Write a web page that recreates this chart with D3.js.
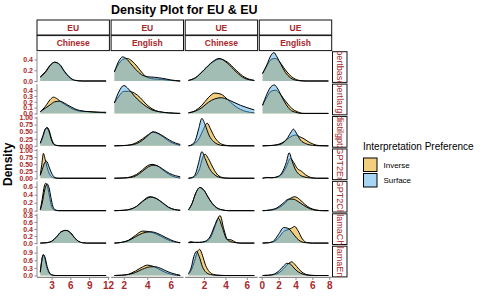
<!DOCTYPE html>
<html>
<head>
<meta charset="UTF-8">
<script src="https://d3js.org/d3.v7.min.js"></script>
<style>
  body { margin: 0; background: #fff; }
  svg { font-family: "Liberation Sans", Arial, sans-serif; display: block; }
</style>
</head>
<body>
<div id="chart"></div>
<script>
const title = "Density Plot for EU & EU";
const orders = ["EU", "EU", "UE", "UE"];
const languages = ["Chinese", "English", "Chinese", "English"];
const models = ["bertbase", "bertlarge", "distilgpt2", "GPT2English", "GPT2Chinese", "llamaChinese", "llamaEnglish"];
const prefs = ["Inverse", "Surface"];

// x data range per column, y max per row
const colRanges = [[1.2, 11.7], [1.2, 6.8], [0.55, 6.7], [0.1, 7.9]];
const colTicks = [[3, 6, 9, 12], [2, 4, 6], [2, 4, 6], [0, 2, 4, 6, 8]];
const rowMax = [0.52, 0.48, 0.986, 0.986, 0.70, 0.79, 1.1];
const rowTicks = [
  [0, 0.2, 0.4], [0, 0.1, 0.2, 0.3, 0.4], [0, 0.25, 0.5, 0.75, 1], [0, 0.25, 0.5, 0.75, 1],
  [0, 0.2, 0.4, 0.6], [0, 0.2, 0.4, 0.6, 0.8], [0, 0.3, 0.6, 0.9]
];
const rowTickFmt = [".1f", ".1f", ".2f", ".2f", ".1f", ".1f", ".1f"];

// density curves [x, density], rows = models, cols = order/language
const inverse = [
  [
    [[1.2,0.08],[2,0.17],[2.8,0.3],[3.5,0.35],[4.3,0.3],[5,0.18],[5.8,0.07],[6.7,0.01],[8,0],[11.7,0]],
    [[1.2,0.17],[1.6,0.33],[2.0,0.41],[2.3,0.42],[2.7,0.37],[3.1,0.28],[3.5,0.17],[3.9,0.08],[4.5,0.04],[5.2,0.03],[6.0,0.01],[6.8,0]],
    [[0.55,0.01],[1.2,0.06],[2,0.2],[2.8,0.35],[3.5,0.41],[4.2,0.35],[5,0.2],[5.8,0.07],[6.7,0.01]],
    [[0.1,0.14],[0.6,0.28],[1.1,0.4],[1.6,0.42],[2.1,0.36],[2.6,0.25],[3.2,0.13],[3.8,0.05],[4.5,0.01],[5.5,0],[7.9,0]]
  ],
  [
    [[1.2,0.03],[2,0.12],[2.8,0.24],[3.3,0.28],[3.9,0.25],[4.6,0.19],[5.5,0.13],[6.5,0.07],[7.5,0.04],[9,0.03],[10.5,0.02],[11.7,0.01]],
    [[1.2,0.18],[1.6,0.3],[2.0,0.38],[2.4,0.38],[2.9,0.35],[3.4,0.27],[3.9,0.16],[4.4,0.08],[5.0,0.03],[5.8,0.01],[6.8,0]],
    [[0.55,0.01],[1.2,0.05],[1.8,0.14],[2.4,0.27],[3.0,0.35],[3.6,0.33],[4.2,0.24],[4.8,0.14],[5.4,0.07],[6.0,0.03],[6.7,0.01]],
    [[0.1,0.14],[0.6,0.28],[1.1,0.38],[1.6,0.4],[2.1,0.35],[2.6,0.25],[3.1,0.16],[3.6,0.08],[4.2,0.03],[5,0],[7.9,0]]
  ],
  [
    [[1.2,0.08],[1.6,0.3],[2.0,0.58],[2.3,0.65],[2.6,0.55],[3.0,0.25],[3.4,0.06],[3.9,0.01],[4.5,0],[11.7,0]],
    [[1.2,0],[2.0,0.01],[2.6,0.04],[3.1,0.12],[3.6,0.25],[4.1,0.4],[4.5,0.48],[4.9,0.43],[5.4,0.3],[5.9,0.15],[6.4,0.06],[6.8,0.02]],
    [[0.55,0],[0.9,0.03],[1.2,0.1],[1.6,0.3],[1.9,0.55],[2.3,0.8],[2.6,0.6],[3.0,0.3],[3.4,0.12],[3.9,0.03],[4.5,0],[6.7,0]],
    [[0.1,0],[1,0.01],[1.8,0.04],[2.5,0.12],[3.1,0.25],[3.6,0.35],[4.0,0.38],[4.5,0.32],[5.0,0.25],[5.5,0.15],[6.1,0.06],[6.8,0.01],[7.9,0]]
  ],
  [
    [[1.2,0.12],[1.45,0.5],[1.7,0.88],[2.0,0.65],[2.4,0.3],[2.8,0.1],[3.3,0.02],[4,0],[11.7,0]],
    [[1.2,0],[2,0.01],[2.6,0.05],[3.1,0.14],[3.6,0.3],[4.0,0.44],[4.4,0.49],[4.8,0.45],[5.3,0.3],[5.8,0.15],[6.3,0.05],[6.8,0.01]],
    [[0.55,0],[0.9,0.02],[1.2,0.08],[1.6,0.35],[1.85,0.7],[2.1,0.85],[2.4,0.7],[2.8,0.4],[3.2,0.15],[3.6,0.04],[4.2,0],[6.7,0]],
    [[0.1,0],[0.6,0.02],[1.2,0.02],[1.8,0.04],[2.4,0.15],[2.9,0.4],[3.4,0.7],[3.8,0.55],[4.2,0.35],[4.7,0.25],[5.2,0.12],[5.8,0.03],[6.5,0],[7.9,0]]
  ],
  [
    [[1.2,0.03],[1.5,0.28],[1.85,0.62],[2.1,0.69],[2.4,0.57],[2.7,0.33],[3.0,0.11],[3.4,0.02],[4,0],[11.7,0]],
    [[1.2,0],[2,0.01],[2.6,0.04],[3.1,0.11],[3.6,0.24],[4.2,0.35],[4.8,0.3],[5.3,0.19],[5.8,0.08],[6.3,0.03],[6.8,0.01]],
    [[0.55,0.02],[0.9,0.19],[1.2,0.42],[1.6,0.58],[2.0,0.51],[2.4,0.33],[2.8,0.17],[3.2,0.07],[3.7,0.02],[4.3,0],[6.7,0]],
    [[0.1,0],[1,0.01],[1.8,0.05],[2.5,0.14],[3.2,0.28],[3.9,0.35],[4.5,0.28],[5.1,0.16],[5.7,0.07],[6.4,0.02],[7.2,0],[7.9,0]]
  ],
  [
    [[1.2,0],[2.2,0.01],[3.0,0.05],[3.8,0.17],[4.5,0.31],[5.3,0.36],[6.0,0.3],[6.7,0.15],[7.3,0.05],[7.9,0.01],[8.6,0],[11.7,0]],
    [[1.2,0],[1.8,0.02],[2.4,0.08],[3.0,0.22],[3.6,0.34],[4.2,0.32],[4.8,0.25],[5.4,0.15],[6.0,0.06],[6.5,0.02],[6.8,0.01]],
    [[0.55,0.02],[0.8,0.04],[1.1,0.02],[1.6,0.02],[2.1,0.04],[2.6,0.15],[3.0,0.45],[3.5,0.78],[3.85,0.4],[4.2,0.1],[4.55,0.09],[4.9,0.03],[5.3,0],[6.7,0]],
    [[0.1,0],[0.8,0.01],[1.4,0.04],[2.0,0.15],[2.6,0.33],[3.1,0.38],[3.5,0.42],[3.9,0.47],[4.3,0.35],[4.8,0.12],[5.3,0.02],[6,0],[7.9,0]]
  ],
  [
    [[1.2,0.15],[1.4,0.55],[1.65,0.82],[1.9,0.7],[2.2,0.35],[2.6,0.1],[3.0,0.02],[3.6,0],[11.7,0]],
    [[1.2,0],[1.8,0.01],[2.4,0.05],[3.0,0.18],[3.6,0.34],[4.0,0.41],[4.5,0.36],[5.0,0.25],[5.5,0.13],[6.0,0.05],[6.5,0.01],[6.8,0]],
    [[0.55,0.05],[0.8,0.2],[1.1,0.55],[1.4,0.95],[1.6,1.03],[1.85,0.8],[2.15,0.4],[2.5,0.15],[2.9,0.04],[3.4,0.01],[4,0],[6.7,0]],
    [[0.1,0],[0.8,0.01],[1.5,0.04],[2.1,0.12],[2.6,0.27],[3.1,0.45],[3.55,0.54],[3.9,0.45],[4.4,0.25],[4.9,0.1],[5.5,0.02],[6.2,0],[7.9,0]]
  ]
];

const surface = [
  [
    [[1.2,0.07],[2,0.16],[2.8,0.29],[3.5,0.35],[4.3,0.31],[5,0.19],[5.8,0.08],[6.7,0.015],[8,0],[11.7,0]],
    [[1.2,0.17],[1.6,0.38],[1.9,0.45],[2.2,0.42],[2.6,0.32],[3.0,0.22],[3.5,0.12],[4.0,0.08],[4.6,0.07],[5.3,0.05],[6.0,0.02],[6.8,0]],
    [[0.55,0.01],[1.2,0.06],[2,0.21],[2.8,0.36],[3.4,0.42],[4.2,0.33],[5,0.17],[5.8,0.05],[6.7,0.01]],
    [[0.1,0.14],[0.6,0.3],[1.1,0.48],[1.45,0.53],[1.8,0.45],[2.3,0.3],[2.8,0.16],[3.4,0.06],[4.2,0.01],[5,0],[7.9,0]]
  ],
  [
    [[1.2,0.03],[2,0.09],[2.8,0.15],[3.5,0.2],[4.3,0.21],[5,0.18],[5.8,0.13],[6.7,0.08],[7.5,0.05],[9,0.03],[10.5,0.02],[11.7,0.02]],
    [[1.2,0.18],[1.6,0.38],[2.0,0.48],[2.4,0.42],[2.9,0.3],[3.4,0.2],[3.9,0.12],[4.4,0.06],[5.0,0.03],[5.8,0.01],[6.8,0]],
    [[0.55,0.01],[1.2,0.04],[1.8,0.1],[2.4,0.19],[3.0,0.25],[3.6,0.27],[4.2,0.24],[4.8,0.19],[5.4,0.14],[6.0,0.1],[6.7,0.06]],
    [[0.1,0.14],[0.6,0.33],[1.1,0.46],[1.5,0.49],[1.9,0.42],[2.4,0.28],[2.9,0.15],[3.4,0.06],[4,0.02],[4.7,0],[7.9,0]]
  ],
  [
    [[1.2,0.1],[1.6,0.35],[2.0,0.6],[2.25,0.64],[2.6,0.5],[3.0,0.2],[3.4,0.04],[3.9,0.01],[4.5,0],[11.7,0]],
    [[1.2,0],[2.0,0.01],[2.6,0.03],[3.1,0.08],[3.6,0.2],[4.1,0.38],[4.5,0.5],[4.9,0.45],[5.4,0.33],[5.9,0.2],[6.4,0.1],[6.8,0.05]],
    [[0.55,0],[0.9,0.05],[1.2,0.2],[1.5,0.6],[1.8,0.97],[2.1,0.75],[2.5,0.35],[2.9,0.15],[3.3,0.05],[3.8,0.01],[4.5,0],[6.7,0]],
    [[0.1,0],[1,0.01],[1.8,0.03],[2.5,0.1],[3.1,0.3],[3.5,0.5],[3.75,0.59],[4.1,0.45],[4.6,0.2],[5.2,0.08],[6,0.02],[7,0],[7.9,0]]
  ],
  [
    [[1.2,0.1],[1.5,0.3],[1.9,0.55],[2.2,0.6],[2.6,0.4],[3.0,0.18],[3.5,0.03],[4,0],[11.7,0]],
    [[1.2,0],[2,0.01],[2.6,0.03],[3.1,0.1],[3.6,0.25],[4.0,0.38],[4.5,0.46],[4.9,0.43],[5.4,0.3],[5.9,0.17],[6.4,0.09],[6.8,0.05]],
    [[0.55,0],[0.9,0.03],[1.2,0.15],[1.5,0.55],[1.8,0.94],[2.1,0.7],[2.5,0.35],[2.9,0.15],[3.3,0.05],[3.8,0.01],[4.5,0],[6.7,0]],
    [[0.1,0],[0.6,0.03],[1.2,0.02],[1.8,0.05],[2.4,0.2],[2.9,0.55],[3.25,0.9],[3.6,0.6],[4.0,0.3],[4.5,0.12],[5.0,0.05],[5.8,0.01],[6.5,0],[7.9,0]]
  ],
  [
    [[1.2,0.02],[1.5,0.19],[1.9,0.52],[2.3,0.67],[2.6,0.57],[2.9,0.33],[3.2,0.11],[3.6,0.02],[4.2,0],[11.7,0]],
    [[1.2,0],[2,0.01],[2.6,0.04],[3.1,0.11],[3.6,0.23],[4.3,0.34],[4.8,0.3],[5.3,0.2],[5.8,0.09],[6.3,0.03],[6.8,0.01]],
    [[0.55,0.02],[0.9,0.19],[1.2,0.42],[1.6,0.58],[2.0,0.51],[2.4,0.33],[2.8,0.17],[3.2,0.07],[3.7,0.02],[4.3,0],[6.7,0]],
    [[0.1,0],[1,0.02],[1.8,0.07],[2.5,0.18],[3.2,0.29],[3.7,0.29],[4.3,0.23],[5.0,0.13],[5.7,0.05],[6.4,0.01],[7.2,0],[7.9,0]]
  ],
  [
    [[1.2,0],[2.2,0.01],[3.0,0.05],[3.8,0.18],[4.5,0.32],[5.3,0.36],[6.0,0.29],[6.7,0.14],[7.3,0.05],[7.9,0.01],[8.6,0],[11.7,0]],
    [[1.2,0],[1.8,0.02],[2.4,0.07],[3.0,0.18],[3.6,0.28],[4.3,0.32],[4.9,0.27],[5.5,0.17],[6.0,0.09],[6.5,0.03],[6.8,0.01]],
    [[0.55,0.01],[1.1,0.02],[1.6,0.02],[2.1,0.05],[2.6,0.2],[3.0,0.5],[3.35,0.7],[3.7,0.45],[4.1,0.12],[4.5,0.04],[5,0.01],[5.5,0],[6.7,0]],
    [[0.1,0],[0.8,0.01],[1.4,0.06],[2.0,0.25],[2.6,0.44],[3.1,0.42],[3.6,0.3],[4.1,0.15],[4.6,0.05],[5.2,0.01],[6,0],[7.9,0]]
  ],
  [
    [[1.2,0.12],[1.4,0.5],[1.7,0.82],[1.95,0.72],[2.3,0.35],[2.7,0.1],[3.1,0.02],[3.7,0],[11.7,0]],
    [[1.2,0],[1.8,0.01],[2.4,0.04],[3.0,0.12],[3.6,0.25],[4.2,0.34],[4.6,0.35],[5.1,0.29],[5.6,0.18],[6.1,0.09],[6.5,0.04],[6.8,0.01]],
    [[0.55,0.08],[0.8,0.3],[1.05,0.75],[1.3,0.95],[1.55,0.75],[1.85,0.35],[2.2,0.12],[2.6,0.04],[3.1,0.01],[3.6,0],[6.7,0]],
    [[0.1,0],[0.8,0.01],[1.5,0.06],[2.1,0.2],[2.6,0.38],[3.0,0.48],[3.4,0.45],[3.8,0.3],[4.3,0.15],[4.9,0.05],[5.6,0.01],[6.5,0],[7.9,0]]
  ]
];

const W = 486, H = 300;
const red = "#A8282B";
const fillColor = { Inverse: "#E69F00", Surface: "#4FACEA" };

const svg = d3.select("#chart").append("svg")
  .attr("width", W).attr("height", H);

const colBand = d3.scaleBand().domain(d3.range(4)).range([37, 331.7]).paddingInner(0.023);
const rowBand = d3.scaleBand().domain(d3.range(7)).range([51.7, 276.9]).paddingInner(0.053);
const bw = colBand.bandwidth(), bh = rowBand.bandwidth();

const xScales = colRanges.map((r, c) => {
  const pad = (r[1] - r[0]) * 0.05;
  return d3.scaleLinear().domain([r[0] - pad, r[1] + pad]).range([colBand(c), colBand(c) + bw]);
});
const yScales = rowMax.map((m, r) =>
  d3.scaleLinear().domain([-0.05 * m, 1.05 * m]).range([rowBand(r) + bh, rowBand(r)]));

// title
svg.append("text")
  .attr("x", (37 + 331.7) / 2).attr("y", 13.5)
  .attr("text-anchor", "middle")
  .style("font-size", "12.5px").style("font-weight", "bold")
  .text(title);

// column strips
[orders, languages].forEach((labels, k) => {
  const y0 = 20 + k * 15.6;
  labels.forEach((lab, c) => {
    svg.append("rect")
      .attr("x", colBand(c)).attr("y", y0).attr("width", bw).attr("height", 15)
      .attr("fill", "#fff").attr("stroke", "#111").attr("stroke-width", 1);
    svg.append("text")
      .attr("x", colBand(c) + bw / 2).attr("y", y0 + 7.8)
      .attr("text-anchor", "middle").attr("dominant-baseline", "central")
      .attr("fill", red).style("font-size", "8.5px").style("font-weight", "bold")
      .text(lab);
  });
});

// row strips
const defs = svg.append("defs");
models.forEach((m, r) => {
  const x0 = 332.5, w = 14.5;
  defs.append("clipPath").attr("id", "rs" + r)
    .append("rect").attr("x", x0).attr("y", rowBand(r)).attr("width", w).attr("height", bh);
  svg.append("rect")
    .attr("x", x0).attr("y", rowBand(r)).attr("width", w).attr("height", bh)
    .attr("fill", "#fff").attr("stroke", "#111").attr("stroke-width", 1);
  svg.append("g").attr("clip-path", `url(#rs${r})`)
    .append("text")
    .attr("transform", `translate(${x0 + w / 2},${rowBand(r) - 1.5}) rotate(90)`)
    .attr("dominant-baseline", "central")
    .attr("fill", red).style("font-size", "9px")
    .text(m);
});

// panels
const area = (xs, ys) => d3.area().x(d => xs(d[0])).y0(ys(0)).y1(d => ys(d[1])).curve(d3.curveMonotoneX);
const line = (xs, ys) => d3.line().x(d => xs(d[0])).y(d => ys(d[1])).curve(d3.curveMonotoneX);

models.forEach((m, r) => {
  const ys = yScales[r];
  for (let c = 0; c < 4; c++) {
    const xs = xScales[c];
    const g = svg.append("g");
    [["Inverse", inverse[r][c]], ["Surface", surface[r][c]]].forEach(([p, pts]) => {
      g.append("path").attr("d", area(xs, ys)(pts))
        .attr("fill", fillColor[p]).attr("fill-opacity", 0.5);
      g.append("path").attr("d", line(xs, ys)(pts))
        .attr("fill", "none").attr("stroke", "#000").attr("stroke-width", 1);
    });
  }
  // y axis
  const ax = svg.append("g").attr("transform", `translate(${colBand(0)},0)`)
    .call(d3.axisLeft(ys).tickValues(rowTicks[r]).tickFormat(d3.format(rowTickFmt[r])).tickSize(2.5).tickPadding(1.5));
  ax.select(".domain").attr("stroke", "#8a8a8a").attr("d", `M0,${rowBand(r)}V${rowBand(r) + bh}`);
  ax.selectAll(".tick line").attr("stroke", "#8a8a8a");
  ax.selectAll(".tick text").attr("fill", red).style("font-size", "7px").style("font-weight", "bold")
    .style("font-family", "'Liberation Sans', Arial, sans-serif");
});

// x axes
colTicks.forEach((ticks, c) => {
  const ax = svg.append("g").attr("transform", `translate(0,${rowBand(6) + bh + 0.5})`)
    .call(d3.axisBottom(xScales[c]).tickValues(ticks).tickFormat(d3.format("d")).tickSize(2.5).tickPadding(2));
  ax.select(".domain").attr("stroke", "#8a8a8a").attr("stroke-width", 1.3)
    .attr("d", `M${colBand(c)},0H${colBand(c) + bw}`);
  ax.selectAll(".tick line").attr("stroke", "#8a8a8a");
  ax.selectAll(".tick text").attr("fill", red).style("font-size", "10px").style("font-weight", "bold")
    .style("font-family", "'Liberation Sans', Arial, sans-serif");
});

// y label
svg.append("text")
  .attr("transform", `translate(12,${(51.7 + 276.9) / 2}) rotate(-90)`)
  .attr("text-anchor", "middle")
  .style("font-size", "12px").style("font-weight", "bold")
  .text("Density");

// legend
const lg = svg.append("g").attr("transform", "translate(363,0)");
lg.append("text").attr("x", 0).attr("y", 150).style("font-size", "10px").text("Interpretation Preference");
prefs.forEach((p, i) => {
  const y = 157.5 + i * 15.5;
  lg.append("rect").attr("x", 0).attr("y", y).attr("width", 14.5).attr("height", 14.5)
    .attr("fill", "#fff");
  lg.append("rect").attr("x", 0.5).attr("y", y + 0.5).attr("width", 13.5).attr("height", 13.5)
    .attr("fill", fillColor[p]).attr("fill-opacity", 0.5).attr("stroke", "#000").attr("stroke-width", 1);
  lg.append("text").attr("x", 20.5).attr("y", y + 7.5).attr("dominant-baseline", "central")
    .style("font-size", "8px").text(p);
});
</script>
</body>
</html>
